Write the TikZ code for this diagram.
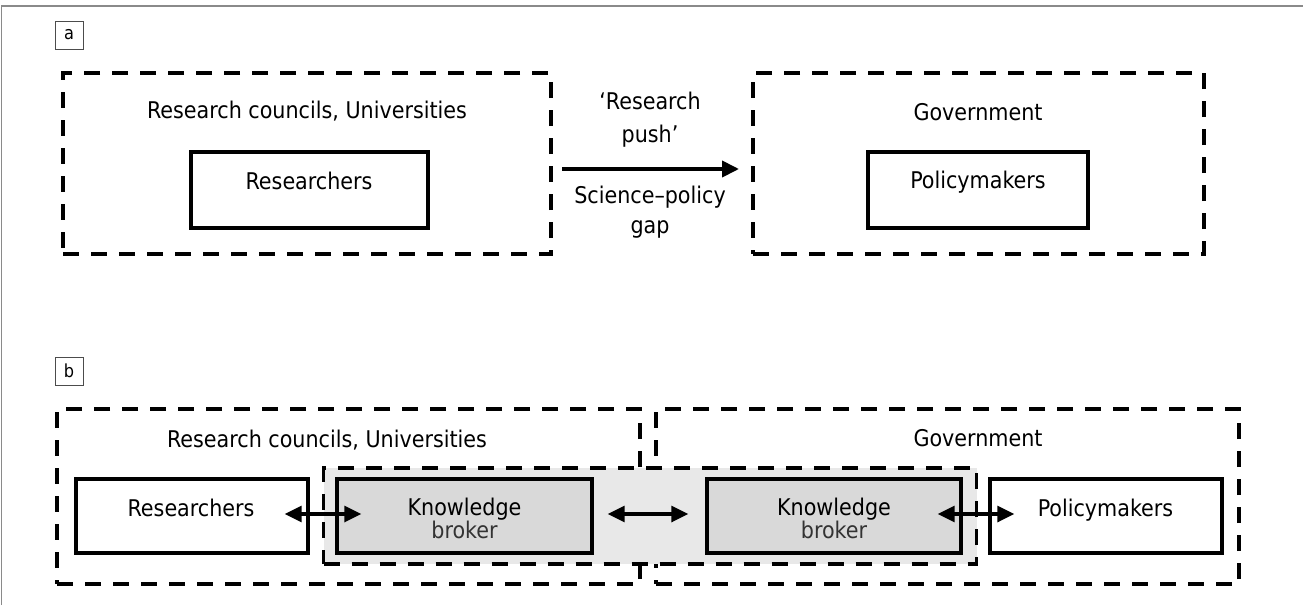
\documentclass[tikz,border=0pt]{standalone}
\usepackage{fontspec}
\setmainfont{DejaVu Sans Condensed}
\usetikzlibrary{arrows.meta}
\definecolor{regiongray}{HTML}{E8E8E8}
\definecolor{brokergray}{HTML}{D9D9D9}
\definecolor{framegray}{HTML}{8A8A8A}
\begin{document}
\begin{tikzpicture}[x=1pt,y=-1pt,
  txt/.style={font=\fontsize{23}{28}\selectfont, anchor=base, inner sep=0pt},
  grp/.style={draw, line width=3.8pt, dash pattern=on 16pt off 12pt, inner sep=0pt},
  solidbox/.style={draw, line width=3.4pt, inner sep=0pt},
  tag/.style={draw=black!70, line width=0.9pt, minimum width=28pt, minimum height=28pt, inner sep=0pt, font=\fontsize{18}{20}\selectfont},
  onearrow/.style={line width=3.8pt, -{Triangle[length=17pt,width=16pt]}},
  twoarrow/.style={line width=3.2pt, {Triangle[length=17pt,width=16pt]}-{Triangle[length=17pt,width=16pt]}}
]
\useasboundingbox (0,0) rectangle (1303,605);
% outer frame
\draw[framegray, line width=1.6pt] (1.5,605) -- (1.5,6) -- (1303,6);

% ---------------- panel a ----------------
\node[tag] (taga) at (69,35) {a};
\node[grp, minimum width=488pt, minimum height=181pt] (gLa) at (307,163.5) {};
\node[grp, minimum width=451pt, minimum height=181pt] (gRa) at (978.5,163.5) {};
\node[solidbox, minimum width=237pt, minimum height=76pt] (resA) at (309.5,190) {};
\node[solidbox, minimum width=220pt, minimum height=76pt] (polA) at (978,190) {};
\node[txt] (tRCa) at (307,118) {Research councils, Universities};
\node[txt] (tGova) at (978,120) {Government};
\node[txt] (tResA) at (309,189) {Researchers};
\node[txt] (tPolA) at (978,188) {Policymakers};
\coordinate (pushS) at (562,169);
\coordinate (pushE) at (739,169);
\draw[onearrow] (pushS) -- (pushE);
\node[txt] (tPush1) at (650,109) {‘Research};
\node[txt] (tPush2) at (650,142) {push’};
\node[txt] (tGap1) at (650,203) {Science–policy};
\node[txt] (tGap2) at (650,233) {gap};

% ---------------- panel b ----------------
\node[tag] (tagb) at (69,371) {b};
\node[grp, minimum width=583pt, minimum height=175pt] (gLb) at (348.5,496.5) {};
\node[grp, minimum width=583pt, minimum height=175pt] (gRb) at (947.5,496.5) {};
\node[grp, fill=regiongray, minimum width=653pt, minimum height=96pt] (region) at (650,516) {};
\node[solidbox, minimum width=232pt, minimum height=74pt] (resB) at (192,516) {};
\node[solidbox, fill=brokergray, minimum width=255pt, minimum height=74pt] (kbL) at (464.5,516) {};
\node[solidbox, fill=brokergray, minimum width=254pt, minimum height=74pt] (kbR) at (834,516) {};
\node[solidbox, minimum width=232pt, minimum height=74pt] (polB) at (1106,516) {};
\node[txt] (tRCb) at (327,447) {Research councils, Universities};
\node[txt] (tGovb) at (978,446) {Government};
\node[txt] (tResB) at (191,516) {Researchers};
\node[txt] (tPolB) at (1105.5,516) {Policymakers};
\node[txt] (tKL1) at (464.5,515) {Knowledge};
\node[txt, text=black!80] (tKL2) at (464.5,538) {broker};
\node[txt] (tKR1) at (834,515) {Knowledge};
\node[txt, text=black!80] (tKR2) at (834,538) {broker};
\draw[twoarrow] ([shift={(-25pt,2pt)}]resB.east) -- ([shift={(26pt,2pt)}]kbL.west);
\draw[twoarrow] ([shift={(14pt,2pt)}]kbL.east) -- ([shift={(-17pt,2pt)}]kbR.west);
\draw[twoarrow] ([shift={(-25pt,2pt)}]kbR.east) -- ([shift={(26pt,2pt)}]polB.west);
\end{tikzpicture}
\end{document}
